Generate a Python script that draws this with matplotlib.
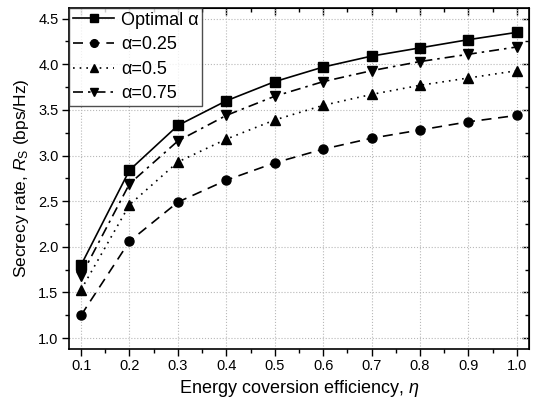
import matplotlib
matplotlib.use('Agg')
import matplotlib.pyplot as plt
from matplotlib.ticker import MultipleLocator

plt.rcParams['font.family'] = ['Liberation Sans', 'DejaVu Sans']
plt.rcParams['mathtext.fontset'] = 'custom'
plt.rcParams['mathtext.rm'] = 'Liberation Sans'
plt.rcParams['mathtext.it'] = 'Liberation Sans:italic'

eta = [0.1, 0.2, 0.3, 0.4, 0.5, 0.6, 0.7, 0.8, 0.9, 1.0]
rate_opt = [1.80, 2.84, 3.33, 3.60, 3.81, 3.97, 4.09, 4.18, 4.27, 4.35]
rate_025 = [1.25, 2.06, 2.49, 2.73, 2.92, 3.07, 3.19, 3.28, 3.37, 3.44]
rate_05 = [1.53, 2.46, 2.93, 3.18, 3.39, 3.55, 3.67, 3.77, 3.85, 3.93]
rate_075 = [1.68, 2.69, 3.16, 3.44, 3.65, 3.81, 3.93, 4.03, 4.11, 4.19]

fig = plt.figure(figsize=(5.36, 4.01), dpi=100)
ax = fig.add_axes([0.1287, 0.1297, 0.858, 0.851])

lw = 1.2
ax.plot(eta, rate_opt, '-', color='black', marker='s', ms=6.5, lw=lw, label='Optimal α')
ax.plot(eta, rate_025, color='black', linestyle=(0, (6, 4)), marker='o', ms=6.5, lw=lw, label='α=0.25')
ax.plot(eta, rate_05, color='black', linestyle=(0, (1, 3)), marker='^', ms=6.5, lw=lw, label='α=0.5')
ax.plot(eta, rate_075, color='black', linestyle=(0, (6, 3, 1.5, 3)), marker='v', ms=6.5, lw=lw, label='α=0.75')

ax.set_xlim(0.075, 1.025)
ax.set_ylim(0.88, 4.62)
ax.xaxis.set_major_locator(MultipleLocator(0.1))
ax.xaxis.set_minor_locator(MultipleLocator(0.05))
ax.yaxis.set_major_locator(MultipleLocator(0.5))
ax.yaxis.set_minor_locator(MultipleLocator(0.25))
ax.xaxis.set_major_formatter(plt.FormatStrFormatter('%.1f'))
ax.yaxis.set_major_formatter(plt.FormatStrFormatter('%.1f'))

ax.grid(True, which='major', linestyle=':', color='#b8b8b8', lw=0.8)
ax.tick_params(which='both', direction='out', labelsize=10.5, width=1, pad=2.5)
ax.tick_params(which='major', length=5)
ax.tick_params(which='minor', length=3)
for s in ax.spines.values():
    s.set_linewidth(1.2)

# mirrored ticks on top and right, pointing inward
top = ax.secondary_xaxis('top')
top.xaxis.set_major_locator(MultipleLocator(0.1))
top.xaxis.set_minor_locator(MultipleLocator(0.05))
top.tick_params(which='both', direction='in', labeltop=False, width=1)
top.tick_params(which='major', length=5)
top.tick_params(which='minor', length=3)
right = ax.secondary_yaxis('right')
right.yaxis.set_major_locator(MultipleLocator(0.5))
right.yaxis.set_minor_locator(MultipleLocator(0.25))
right.tick_params(which='both', direction='in', labelright=False, width=1)
right.tick_params(which='major', length=5)
right.tick_params(which='minor', length=3)

ax.set_xlabel(r'Energy coversion efficiency, $\eta$', fontsize=13, labelpad=3)
ax.set_ylabel(r'Secrecy rate, $R_{\rm S}$ (bps/Hz)', fontsize=12.5, labelpad=5)

leg = ax.legend(loc='upper left', fontsize=13, frameon=True, fancybox=False,
                edgecolor='#222222', borderaxespad=0, handlelength=2.3,
                borderpad=0.22, labelspacing=0.42, handletextpad=0.35,
                markerscale=0.85)
leg.get_frame().set_linewidth(1.0)

fig.savefig('out.png', dpi=100)
